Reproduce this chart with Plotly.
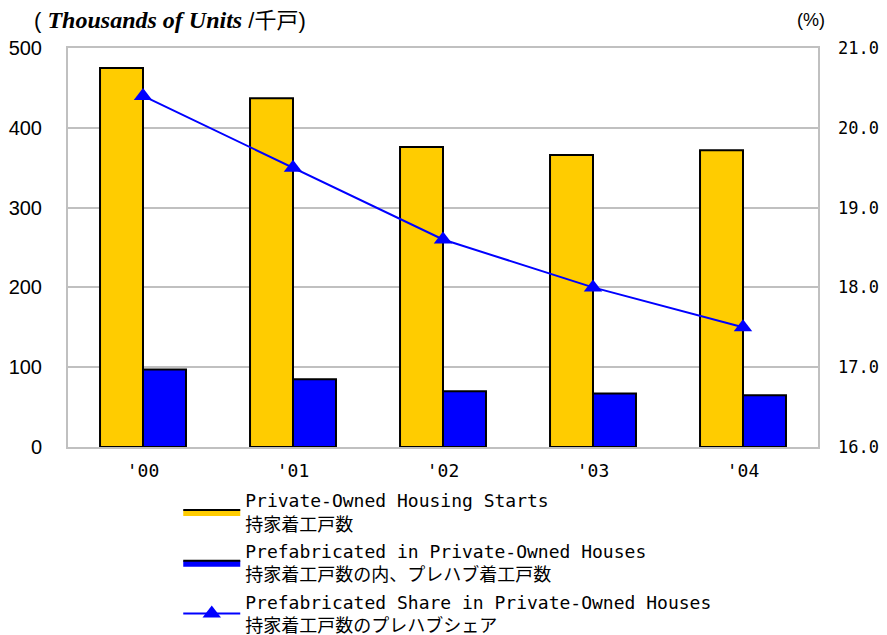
import plotly.graph_objects as go

years = ["'00", "'01", "'02", "'03", "'04"]
housing_starts = [475, 437, 376, 366, 372]
prefab_units = [97, 85, 70, 67, 65]
prefab_share = [20.4, 19.5, 18.6, 18.0, 17.5]

name1 = "Private-Owned Housing Starts<br>持家着工戸数"
name2 = "Prefabricated in Private-Owned Houses<br>持家着工戸数の内、プレハブ着工戸数"
name3 = "Prefabricated Share in Private-Owned Houses<br>持家着工戸数のプレハブシェア"

yellow = "#FFCC00"
blue = "#0000FF"
mono = "DejaVu Sans Mono, Noto Sans CJK JP, monospace"

fig = go.Figure()
fig.add_trace(go.Bar(x=years, y=housing_starts, name=name1, showlegend=False,
                     legendgroup="a",
                     marker=dict(color=yellow, line=dict(color="black", width=2))))
fig.add_trace(go.Bar(x=years, y=prefab_units, name=name2, showlegend=False,
                     legendgroup="b",
                     marker=dict(color=blue, line=dict(color="black", width=2))))
# legend-only entries drawn as filled boxes (wide rectangles like the reference)
fig.add_trace(go.Scatter(x=[None], y=[None], name=name1, legendgroup="a",
                         mode="lines", fill="toself", fillcolor=yellow,
                         line=dict(color="black", width=2)))
fig.add_trace(go.Scatter(x=[None], y=[None], name=name2, legendgroup="b",
                         mode="lines", fill="toself", fillcolor=blue,
                         line=dict(color="black", width=2)))
fig.add_trace(go.Scatter(x=years, y=prefab_share, name=name3, yaxis="y2",
                         mode="lines+markers",
                         line=dict(color=blue, width=2),
                         marker=dict(symbol="triangle-up", size=16, color=blue)))

fig.update_layout(
    width=879, height=627,
    margin=dict(l=60, r=69, t=40, b=188, autoexpand=False),
    plot_bgcolor="white", paper_bgcolor="white",
    barmode="group", bargap=0.427, bargroupgap=0,
    showlegend=True,
    legend=dict(x=0.147, y=0.244, xref="paper", yref="container",
                xanchor="left", yanchor="top",
                font=dict(family=mono, size=18, color="black"),
                tracegroupgap=1, itemwidth=57, bgcolor="rgba(0,0,0,0)"),
    xaxis=dict(showline=True, linecolor="#c0c0c0", linewidth=2, mirror=True,
               ticks="", ticklabelstandoff=6,
               tickfont=dict(family=mono, size=18, color="black"),
               showgrid=False),
    yaxis=dict(range=[0, 500], dtick=100, showline=True, linecolor="#c0c0c0",
               linewidth=2, mirror=True, gridcolor="#c0c0c0", gridwidth=2,
               ticks="", ticklabelstandoff=20,
               tickfont=dict(family="Liberation Sans, Arial", size=20, color="black"),
               zeroline=False),
    yaxis2=dict(range=[16, 21], dtick=1, overlaying="y", side="right",
                tickformat=".1f", showgrid=False, ticks="", ticklabelstandoff=19,
                tickfont=dict(family=mono, size=17, color="black"), zeroline=False),
    annotations=[
        dict(xref="paper", yref="paper", x=-0.048, y=1.0, yshift=28, xanchor="left",
             yanchor="middle", showarrow=False,
             text="( <span style='font-family:Liberation Serif, serif;font-size:24px'><b><i>Thousands of Units</i></b></span> /千戸)",
             font=dict(family="Liberation Sans, Noto Sans CJK JP", size=22, color="black")),
        dict(xref="paper", yref="paper", x=0.99, y=1.0, yshift=28, xanchor="center",
             yanchor="middle", showarrow=False, text="(%)",
             font=dict(family="Liberation Sans Narrow, Liberation Sans", size=18, color="black")),
    ],
)

fig.write_html("out.html")
